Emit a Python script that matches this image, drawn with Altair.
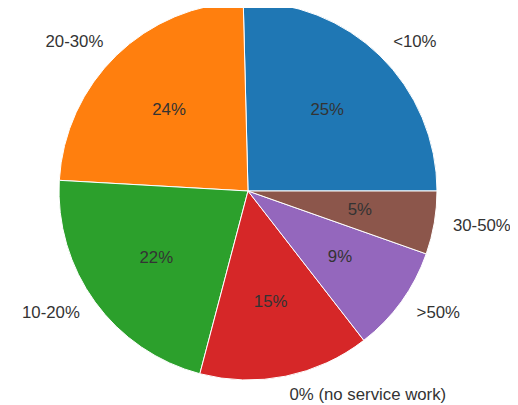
import altair as alt
import pandas as pd
import math

# Slice data (matplotlib order: counter-clockwise from 3 o'clock)
categories = ["<10%", "20-30%", "10-20%", "0% (no service work)", ">50%", "30-50%"]
values = [25.4, 23.7, 21.8, 14.6, 9.1, 5.4]
pct_labels = ["25%", "24%", "22%", "15%", "9%", "5%"]
colors = ["#1f77b4", "#ff7f0e", "#2ca02c", "#d62728", "#9467bd", "#8c564b"]
sides = ["R", "L", "L", "R", "R", "R"]

n = len(categories)
df = pd.DataFrame({
    "category": categories,
    "value": values,
    "pct": pct_labels,
    "side": sides,
    # draw clockwise from 3 o'clock in reversed order == matplotlib CCW order
    "ord": list(range(n, 0, -1)),
})

CX, CY, R = 240, 183, 189
theta_scale = alt.Scale(range=[math.pi / 2, math.pi / 2 + 2 * math.pi])

base = alt.Chart(df).encode(
    theta=alt.Theta("value:Q", stack=True, scale=theta_scale),
    order=alt.Order("ord:Q"),
    x=alt.value(CX),
    y=alt.value(CY),
)

arcs = base.mark_arc(radius=R, stroke="white", strokeWidth=1).encode(
    color=alt.Color("category:N", scale=alt.Scale(domain=categories, range=colors), legend=None)
)

font = "Liberation Sans"
fs = 16.8

pct = base.mark_text(radius=R * 0.6, font=font, fontSize=fs, color="#333333",
                     align="center", baseline="middle").encode(text="pct:N")

right_lab = base.transform_calculate(
    t="datum.side == 'R' ? datum.category : ''"
).mark_text(radius=R * 1.1, font=font, fontSize=fs, color="#333333",
            align="left", baseline="middle").encode(text="t:N")

left_lab = base.transform_calculate(
    t="datum.side == 'L' ? datum.category : ''"
).mark_text(radius=R * 1.1, font=font, fontSize=fs, color="#333333",
            align="right", baseline="middle").encode(text="t:N")

chart = alt.layer(arcs, pct, right_lab, left_lab).properties(
    width=502, height=397, autosize=alt.AutoSizeParams(type="none"), padding=0
).configure_view(stroke=None)

chart.save("out.html", embed_options={"renderer": "svg", "actions": False})
